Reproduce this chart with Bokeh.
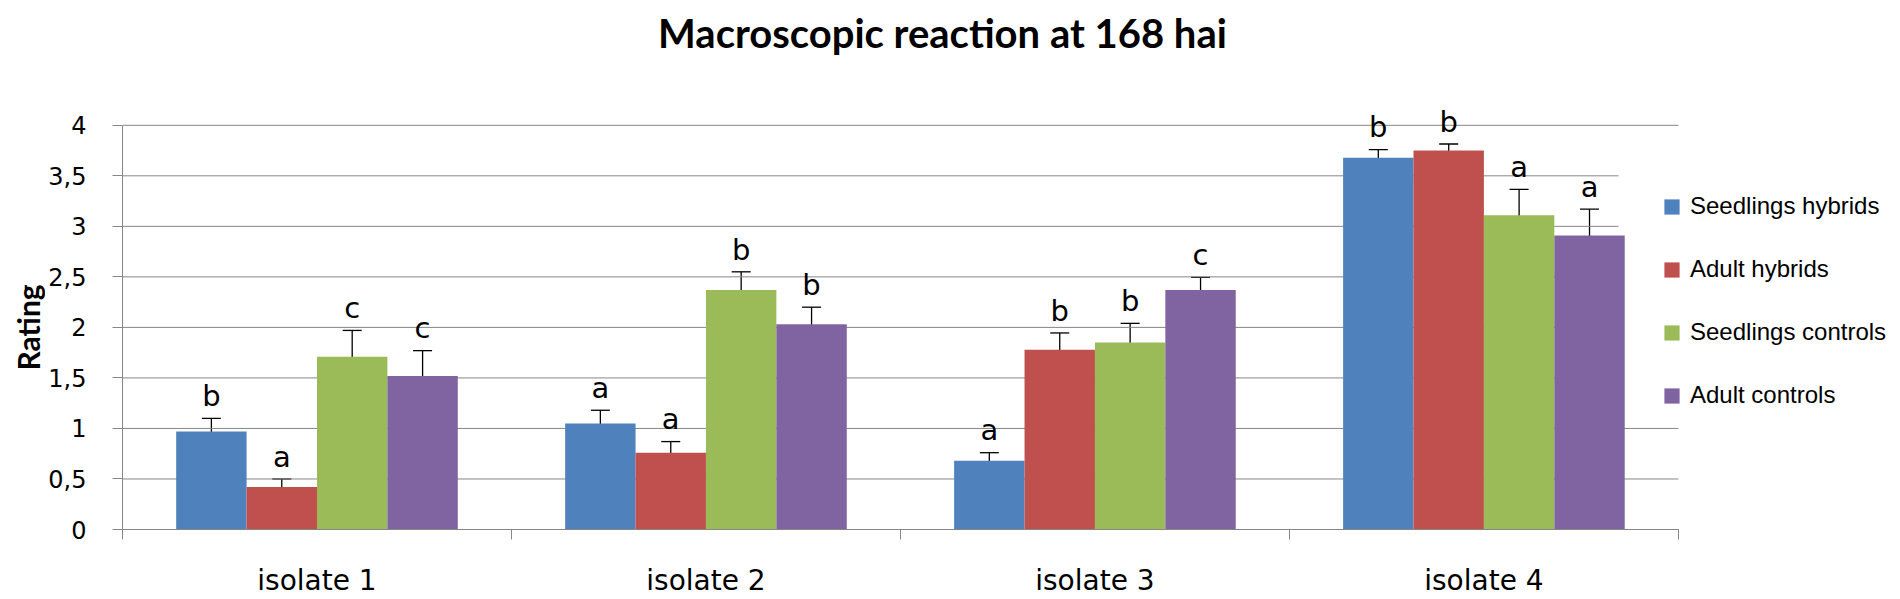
import numpy as np
from bokeh.plotting import figure
from bokeh.layouts import row
from bokeh.models import (ColumnDataSource, Range1d, FixedTicker, Whisker, TeeHead,
                          Legend, LegendItem, Label)
from bokeh.core.properties import value
from bokeh.embed import file_html
from bokeh.resources import INLINE

# ---------------- data ----------------
categories = ["isolate 1", "isolate 2", "isolate 3", "isolate 4"]
series_names = ["Seedlings hybrids", "Adult hybrids", "Seedlings controls", "Adult controls"]

seedlings_hybrids = [0.97, 1.05, 0.68, 3.68]
adult_hybrids = [0.42, 0.76, 1.78, 3.75]
seedlings_controls = [1.71, 2.37, 1.85, 3.11]
adult_controls = [1.52, 2.03, 2.37, 2.91]

err_seedlings_hybrids = [0.13, 0.13, 0.08, 0.08]
err_adult_hybrids = [0.08, 0.11, 0.165, 0.065]
err_seedlings_controls = [0.26, 0.18, 0.19, 0.255]
err_adult_controls = [0.25, 0.17, 0.125, 0.26]

letters_seedlings_hybrids = ["b", "a", "a", "b"]
letters_adult_hybrids = ["a", "a", "b", "b"]
letters_seedlings_controls = ["c", "b", "b", "a"]
letters_adult_controls = ["c", "b", "c", "a"]

y_ticks = [0, 0.5, 1, 1.5, 2, 2.5, 3, 3.5, 4]
y_tick_labels = ["0", "0,5", "1", "1,5", "2", "2,5", "3", "3,5", "4"]

colors = ["#4F81BD", "#C0504D", "#9BBB59", "#8064A2"]

values = [seedlings_hybrids, adult_hybrids, seedlings_controls, adult_controls]
errors = [err_seedlings_hybrids, err_adult_hybrids, err_seedlings_controls, err_adult_controls]
letters = [letters_seedlings_hybrids, letters_adult_hybrids, letters_seedlings_controls, letters_adult_controls]

# ---------------- layout constants ----------------
GRID = "#868686"
LAB_W = 45        # strip holding the y-axis title
X_END = 4.571     # frame runs to the right canvas edge (legend sits inside it)
Y_TOP = 5.235     # frame runs to the top canvas edge (title sits inside it)
LEGEND_BOX = dict(left=3.846, right=X_END, bottom=1.2, top=3.7)   # white legend area

n_cat = len(categories)
y_range = Range1d(0, Y_TOP)

# ---- y-axis title strip ----
p_lab = figure(width=LAB_W, height=599, output_backend="svg", toolbar_location=None,
               x_range=Range1d(0, LAB_W), y_range=y_range,
               min_border_left=0, min_border_right=0, min_border_top=0, min_border_bottom=69)
p_lab.outline_line_color = None
p_lab.axis.visible = False
p_lab.grid.visible = False
p_lab.text(x=[27], y=[(y_ticks[0] + y_ticks[-1]) / 2], text=["Rating"], angle=90,
           angle_units="deg", text_align="center", text_baseline="alphabetic",
           text_font=value("Lato"), text_font_style="bold", text_font_size="30px",
           text_color="black")

# ---- main chart ----
p = figure(width=1900 - LAB_W, height=599, output_backend="svg", toolbar_location=None,
           x_range=Range1d(0, X_END), y_range=y_range,
           min_border_left=122 - LAB_W, min_border_right=0, min_border_top=0, min_border_bottom=69)
p.outline_line_color = None
p.background_fill_color = "white"
p.border_fill_color = "white"
p.xgrid.visible = False
p.ygrid.visible = False

# gridlines over the four categories
p.segment(x0=[p.x_range.start] * len(y_ticks), y0=y_ticks,
          x1=[n_cat] * len(y_ticks), y1=y_ticks, line_color=GRID, line_width=1)
# white legend area hiding the gridline ends
p.quad(left=[LEGEND_BOX["left"]], right=[LEGEND_BOX["right"]],
       bottom=[LEGEND_BOX["bottom"]], top=[LEGEND_BOX["top"]],
       fill_color="white", line_color=None)

# y axis
p.yaxis.bounds = (y_ticks[0], y_ticks[-1])
p.yaxis.ticker = FixedTicker(ticks=y_ticks, minor_ticks=[])
p.yaxis.major_label_overrides = {t: l for t, l in zip(y_ticks, y_tick_labels)}
p.yaxis.axis_line_color = GRID
p.yaxis.major_tick_line_color = GRID
p.yaxis.major_tick_out = 10
p.yaxis.major_tick_in = 0
p.yaxis.minor_tick_line_color = None
p.yaxis.major_label_standoff = 26
p.yaxis.major_label_text_font = "DejaVu Sans"
p.yaxis.major_label_text_font_size = "24px"
p.yaxis.major_label_text_color = "black"

# x axis: labels at category centres, ticks at category boundaries
centers = np.arange(n_cat) + 0.5
bounds = list(range(n_cat + 1))
p.xaxis.bounds = (0, n_cat)
p.xaxis.ticker = FixedTicker(ticks=list(centers), minor_ticks=bounds)
p.xaxis.major_label_overrides = {float(c): cat for c, cat in zip(centers, categories)}
p.xaxis.major_label_text_font = "DejaVu Sans"
p.xaxis.major_label_text_font_size = "28px"
p.xaxis.major_label_text_color = "black"
p.xaxis.major_label_standoff = 24
p.xaxis.axis_line_color = GRID
p.xaxis.major_tick_line_color = None
p.xaxis.major_tick_out = 0
p.xaxis.major_tick_in = 0
p.xaxis.minor_tick_line_color = GRID
p.xaxis.minor_tick_out = 10
p.xaxis.minor_tick_in = 0

# ---------------- bars ----------------
n = len(series_names)
bar_w = 0.181
items = []
for j in range(n):
    xs = centers + (j - (n - 1) / 2) * bar_w
    vals = np.array(values[j])
    errs = np.array(errors[j])
    src = ColumnDataSource(dict(x=xs, top=vals, upper=vals + errs, lower=vals - errs,
                                lab=letters[j], ly=vals + errs + 0.22))
    r = p.vbar(x="x", top="top", bottom=0, width=bar_w, source=src,
               fill_color=colors[j], line_color=None)
    items.append(LegendItem(label=series_names[j], renderers=[r]))
    w = Whisker(source=src, base="x", upper="upper", lower="lower", dimension="height",
                line_color="black", line_width=1.3,
                upper_head=TeeHead(size=19, line_color="black", line_width=1.3),
                lower_head=TeeHead(size=19, line_color="black", line_width=1.3))
    p.add_layout(w)
    p.text(x="x", y="ly", text="lab", source=src, text_align="center",
           text_baseline="alphabetic", text_font=value("DejaVu Sans"),
           text_font_size="29px", text_color="black")

# chart title
p.add_layout(Label(x=n_cat / 2, y=y_ticks[-1], x_offset=42, y_offset=92,
                   text="Macroscopic reaction at 168 hai",
                   text_align="center", text_baseline="alphabetic",
                   text_font="Lato", text_font_style="bold",
                   text_font_size="40px", text_color="black"))

# legend
legend = Legend(items=items, location=(1540, 120), orientation="vertical")
legend.background_fill_color = "white"
legend.background_fill_alpha = 1
legend.border_line_color = None
legend.padding = 10
legend.margin = 0
legend.glyph_width = 19
legend.glyph_height = 19
legend.label_height = 19
legend.spacing = 35
legend.label_standoff = 9
legend.label_text_font = "Liberation Sans"
legend.label_text_font_size = "24px"
legend.label_text_color = "black"
p.add_layout(legend, "center")

open("out.html", "w").write(file_html(row(p_lab, p), INLINE))
